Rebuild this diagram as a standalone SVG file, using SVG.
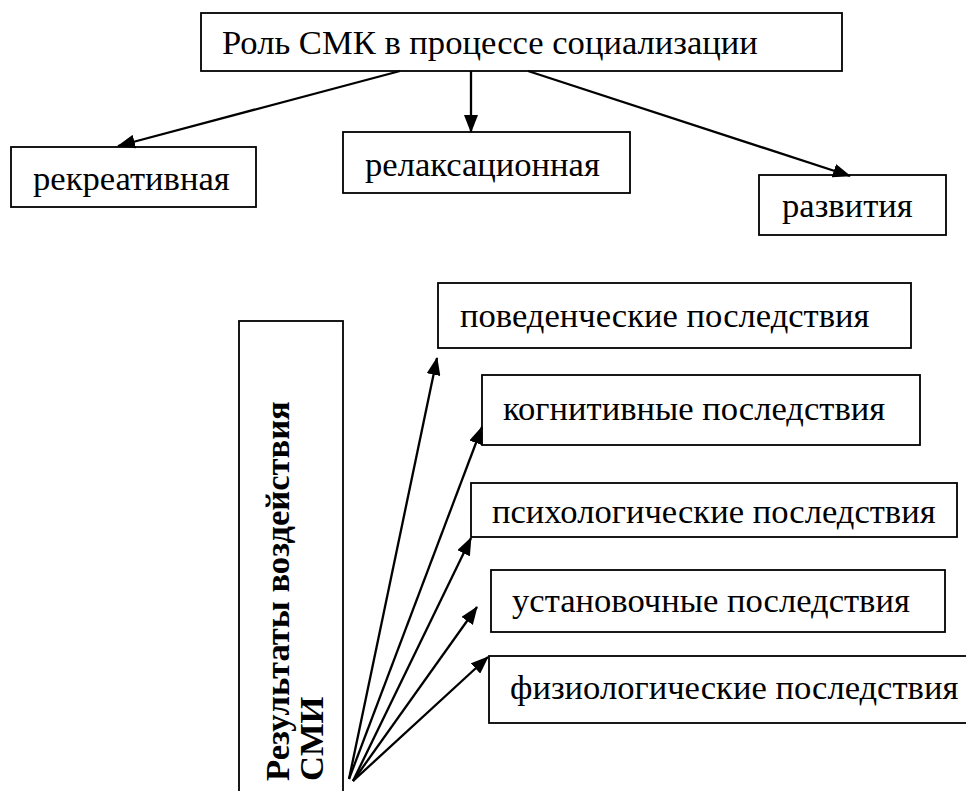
<svg xmlns="http://www.w3.org/2000/svg" width="966" height="791" viewBox="0 0 966 791">
<defs>
<marker id="ah" markerUnits="userSpaceOnUse" markerWidth="18" markerHeight="14" refX="17" refY="7" orient="auto"><path d="M0,0 L18,7 L0,14 z" fill="#000"/></marker>
<style>
.box{fill:#fff;stroke:#000;stroke-width:1.8}
.t{font-family:'Liberation Serif','Times New Roman',serif;font-size:34.6px;fill:#000}
.b{font-weight:bold}
.c{stroke:#000;stroke-width:2.3;fill:none;marker-end:url(#ah)}
</style>
</defs>
<rect width="966" height="791" fill="#fff"/>
<g id="root"><rect class="box" x="201" y="13" width="641" height="58"/><text class="t" x="222" y="54">Роль СМК в процессе социализации</text></g>
<g id="rekreat"><rect class="box" x="11" y="147" width="245" height="60"/><text class="t" x="33" y="190">рекреативная</text></g>
<g id="relax"><rect class="box" x="343" y="132" width="287" height="61"/><text class="t" x="365" y="176">релаксационная</text></g>
<g id="razv"><rect class="box" x="759" y="175" width="187" height="60"/><text class="t" x="782" y="217">развития</text></g>
<g id="results"><rect class="box" x="239" y="321" width="104" height="480"/><text class="t b" transform="rotate(-90)" x="-781" y="289">Результаты воздействия</text><text class="t b" transform="rotate(-90)" x="-781" y="323">СМИ</text></g>
<g id="pov"><rect class="box" x="438" y="283" width="473" height="65"/><text class="t" x="460" y="327">поведенческие последствия</text></g>
<g id="kogn"><rect class="box" x="482" y="375" width="438" height="70"/><text class="t" x="503" y="420">когнитивные последствия</text></g>
<g id="psych"><rect class="box" x="471" y="483" width="486" height="54"/><text class="t" x="492" y="523">психологические последствия</text></g>
<g id="ustan"><rect class="box" x="491" y="570" width="454" height="62"/><text class="t" x="512" y="612">установочные последствия</text></g>
<g id="fiz"><rect class="box" x="489" y="656" width="500" height="67"/><text class="t" x="510" y="699">физиологические последствия</text></g>
<g id="connectors">
<line class="c" x1="400" y1="71" x2="118" y2="146"/>
<line class="c" x1="471" y1="71" x2="471" y2="132"/>
<line class="c" x1="528" y1="71" x2="850" y2="176"/>
<line class="c" x1="349" y1="779" x2="437" y2="358"/>
<line class="c" x1="349" y1="779" x2="482" y2="427"/>
<line class="c" x1="353" y1="781" x2="471" y2="538"/>
<line class="c" x1="353" y1="781" x2="477" y2="607"/>
<line class="c" x1="353" y1="781" x2="488" y2="657"/>
</g>
</svg>
